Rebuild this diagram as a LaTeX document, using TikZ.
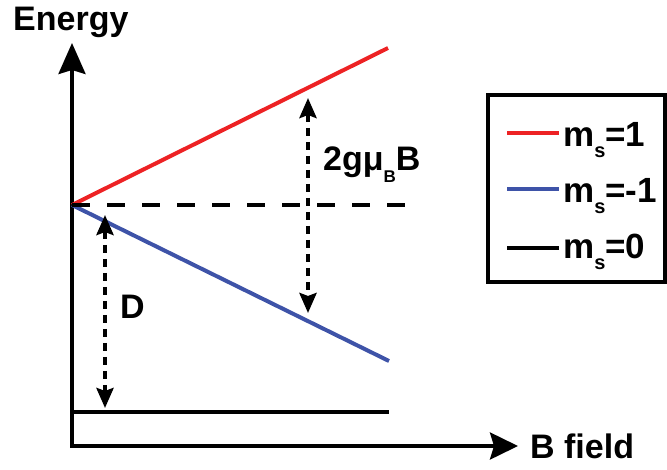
\documentclass[tikz,border=0pt]{standalone}
\usepackage{fontspec}
\setmainfont{Liberation Sans}
\usetikzlibrary{arrows.meta}
\definecolor{lred}{RGB}{237,34,36}
\definecolor{lblue}{RGB}{62,83,168}
\begin{document}
\begin{tikzpicture}[x=1pt,y=-1pt,
  lbl/.style={inner sep=0pt, anchor=base west, font=\bfseries\fontsize{34}{34}\selectfont},
  leg/.style={inner sep=0pt, anchor=base west, font=\bfseries\fontsize{35}{35}\selectfont},
  axis/.style={line width=3.5pt, line join=miter, {Stealth[length=31pt,width=27pt,inset=4pt]}-{Stealth[length=28pt,width=27pt,inset=4pt]}},
  level/.style={line width=4pt},
  gap/.style={line width=4pt, dash pattern=on 8pt off 6pt, {Stealth[length=20pt,width=17pt,inset=3pt]}-{Stealth[length=20pt,width=17pt,inset=3pt]}}
]
\useasboundingbox (0,0) rectangle (667,469);
% axes
\coordinate (ytip) at (72,43);
\coordinate (orig) at (72,446);
\coordinate (xtip) at (518,446);
\draw[axis] (ytip) -- (orig) -- (xtip);
\node[lbl] (energy) at (13,30) {Energy};
\node[lbl] (bfield) at (530,458) {B field};
% levels
\coordinate (split) at (72,205);
\coordinate (redend) at (388,48);
\coordinate (blueend) at (389,361);
\coordinate (dashend) at (405,205);
\coordinate (zl) at (72,412);
\coordinate (zr) at (389,412);
\draw[level, lred] (split) -- (redend);
\draw[level, lblue] (split) -- (blueend);
\draw[line width=4pt, dash pattern=on 18pt off 17pt] (split) -- (dashend);
\draw[line width=3.5pt] (zl) -- (zr);
% gaps
\coordinate (gt) at (308,98);
\coordinate (gb) at (308,313);
\draw[gap] (gt) -- (gb);
\node[lbl] (glabel) at (323,170) {2gμ\raisebox{-12pt}{\fontsize{17}{17}\selectfont B}B};
\coordinate (dt) at (105,215);
\coordinate (db) at (105,408);
\draw[gap] (dt) -- (db);
\node[lbl] (dlabel) at (120,318) {D};
% legend
\draw[line width=4pt] (488,95) rectangle (665,282);
\coordinate (l1a) at (507,133); \coordinate (l1b) at (559,133);
\coordinate (l2a) at (507,189); \coordinate (l2b) at (559,189);
\coordinate (l3a) at (507,248); \coordinate (l3b) at (559,248);
\draw[level, lred] (l1a) -- (l1b);
\draw[level, lblue] (l2a) -- (l2b);
\draw[level, black] (l3a) -- (l3b);
\node[leg] (t1) at (563,146) {m\raisebox{-11pt}{\fontsize{20}{20}\selectfont s}=1};
\node[leg] (t2) at (563,202) {m\raisebox{-11pt}{\fontsize{20}{20}\selectfont s}=-1};
\node[leg] (t3) at (563,258) {m\raisebox{-11pt}{\fontsize{20}{20}\selectfont s}=0};
\end{tikzpicture}
\end{document}
